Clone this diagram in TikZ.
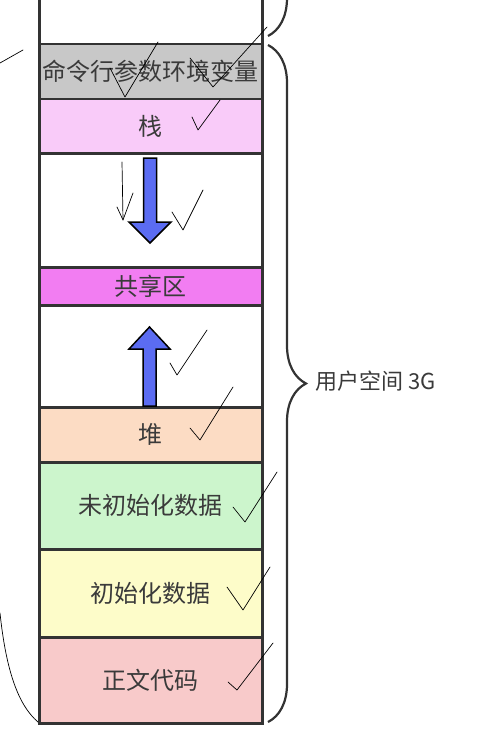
\documentclass[tikz,border=0pt]{standalone}
\usepackage{fontspec}
\newfontfamily\cjk{Noto Sans CJK SC}
\usetikzlibrary{decorations.pathreplacing}
\definecolor{linec}{HTML}{333333}
\definecolor{textc}{HTML}{3A3A3A}
\definecolor{cgray}{HTML}{C8C8C8}
\definecolor{cstack}{HTML}{F9CBF9}
\definecolor{cshared}{HTML}{F27DF2}
\definecolor{cheap}{HTML}{FCDCC4}
\definecolor{cbss}{HTML}{CCF5CC}
\definecolor{cdata}{HTML}{FDFCC9}
\definecolor{ctext}{HTML}{F8CACA}
\definecolor{carrow}{HTML}{5B6CF2}
\begin{document}
\begin{tikzpicture}[x=1pt,y=-1pt,
  seg/.style={draw=linec, line width=2.5pt, minimum width=223pt, inner sep=0pt,
    anchor=north west, font=\cjk\fontsize{24}{24}\selectfont, text=textc},
  bigarrow/.style={draw=black, line width=1.5pt, fill=carrow, line join=miter},
  bracest/.style={draw=linec, line width=2.2pt, decorate, decoration={brace, amplitude=38pt}},
  hand/.style={draw=black, line width=0.7pt, line cap=round, line join=round}]
\useasboundingbox (0,0) rectangle (483,733);
\clip (0,0) rectangle (483,733);
\node[seg, fill=white, minimum height=63pt] (top) at (38,-20) {};
\node[seg, fill=cgray, minimum height=55pt] (cmd) at (38,43) {命令行参数环境变量};
\node[seg, fill=cstack, minimum height=54pt] (stack) at (38,98) {栈};
\node[seg, fill=white, minimum height=114pt] (gap1) at (38,152) {};
\node[seg, fill=cshared, minimum height=38pt] (shared) at (38,266) {共享区};
\node[seg, fill=white, minimum height=102pt] (gap2) at (38,304) {};
\node[seg, fill=cheap, minimum height=55pt] (heap) at (38,406) {堆};
\node[seg, fill=cbss, minimum height=87pt] (bss) at (38,461) {未初始化数据};
\node[seg, fill=cdata, minimum height=88pt] (data) at (38,548) {初始化数据};
\node[seg, fill=ctext, minimum height=86pt] (text) at (38,636) {正文代码};
% growth arrows
\draw[bigarrow] (143.5,158) -- (156.5,158) -- (156.5,222) -- (171,222) -- (150,243)
  -- (129,222) -- (143.5,222) -- cycle;
\draw[bigarrow] (143,406) -- (156,406) -- (156,349) -- (170,349) -- (149.5,327)
  -- (129,349) -- (143,349) -- cycle;
% braces
\draw[bracest] (268,-300) -- (268,36);
\draw[bracest] (268,45) -- (268,722);
\node[anchor=west, font=\cjk\fontsize{22}{22}\selectfont, text=textc, inner sep=0pt] (user) at (315,381) {用户空间 3G};
% hand-drawn marks
\draw[hand] (0,63) -- (23,50);
\draw[hand] (0,613) .. controls (6,670) and (18,705) .. (38,722);
\draw[hand] (110,68) -- (125,97) -- (158,42);
\draw[hand] (190,58) -- (213,87) -- (267,27);
\draw[hand] (192,117) -- (198,130) -- (220,100);
\draw[hand] (122,162) -- (123,220);
\draw[hand] (117,207) -- (123,220) -- (133,193);
\draw[hand] (172,212) -- (183,230) -- (203,190);
\draw[hand] (170,363) -- (177,375) -- (207,330);
\draw[hand] (190,428) -- (200,440) -- (233,387);
\draw[hand] (233,507) -- (245,522) -- (277,472);
\draw[hand] (227,587) -- (243,610) -- (270,567);
\draw[hand] (228,682) -- (237,690) -- (273,643);
\end{tikzpicture}
\end{document}
